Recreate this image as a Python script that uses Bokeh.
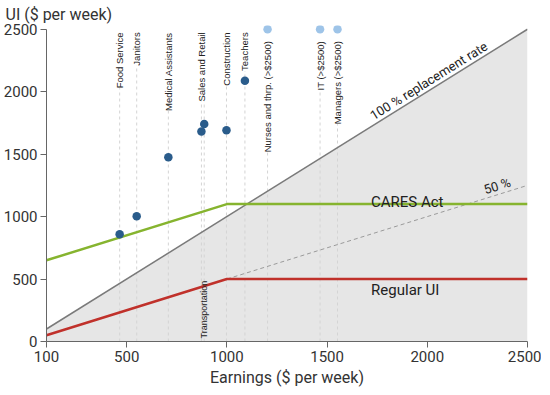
import math
from bokeh.plotting import figure
from bokeh.models import Range1d, FixedTicker
from bokeh.core.properties import value
from bokeh.embed import file_html
from bokeh.resources import INLINE

# ---- data ----
occupations = ["Food Service", "Janitors", "Medical Assistants", "Sales and Retail",
               "Transportation", "Construction", "Teachers",
               "Nurses and thrp. (>$2500)", "IT (>$2500)", "Managers (>$2500)"]
earnings = [465, 550, 708, 873, 887, 998, 1090, 1203, 1465, 1552]
ui_needed = [858, 1002, 1476, 1681, 1742, 1692, 2087, 2500, 2500, 2500]
capped = [False, False, False, False, False, False, False, True, True, True]

policy_earnings = [100, 1000, 2500]
regular_ui = [50, 500, 500]
cares_ui = [650, 1100, 1100]

full_earn = [100, 2500]
full_ui = [100, 2500]
half_earn = [1000, 2500]
half_ui = [500, 1250]

x_ticks = [100, 500, 1000, 1500, 2000, 2500]
y_ticks = [0, 500, 1000, 1500, 2000, 2500]

# ---- layout ----
FW, FH = 481, 316
X0, X1 = 100, 2500
Y0, Y1 = 0, 2530
ppx = FW / (X1 - X0)
ppy = FH / (Y1 - Y0)

p = figure(frame_width=FW, frame_height=FH, output_backend="svg", toolbar_location=None,
           x_range=Range1d(X0, X1), y_range=Range1d(Y0, Y1),
           min_border=0, min_border_right=14, min_border_top=0, min_border_bottom=0)
p.outline_line_color = None
p.xgrid.visible = False
p.ygrid.visible = False
p.background_fill_color = "white"

p.title.text = "UI ($ per week)"
p.title.align = "left"
p.title.text_font = "Roboto"
p.title.text_font_size = "16px"
p.title.text_font_style = "normal"
p.title.text_color = "#333333"
p.title.offset = -41
p.title.standoff = 4

for ax in (p.xaxis[0], p.yaxis[0]):
    ax.axis_line_color = "#666666"
    ax.major_tick_line_color = "#666666"
    ax.minor_tick_line_color = None
    ax.major_tick_out = 6
    ax.major_tick_in = 0
    ax.major_label_text_font = "Roboto"
    ax.major_label_text_font_size = "15px"
    ax.major_label_text_color = "#333333"
    ax.axis_label_text_font = "Roboto"
    ax.axis_label_text_font_size = "16px"
    ax.axis_label_text_font_style = "normal"
    ax.axis_label_text_color = "#333333"

p.xaxis.ticker = FixedTicker(ticks=x_ticks)
p.yaxis.ticker = FixedTicker(ticks=y_ticks)
p.yaxis.bounds = (0, 2500)
p.xaxis.axis_label = "Earnings ($ per week)"
p.xaxis.axis_label_standoff = 3
p.xaxis.major_label_standoff = 3
p.yaxis.major_label_standoff = 3

# shaded area under 100% replacement
p.patch([full_earn[0]] + full_earn + [full_earn[-1]], [0] + full_ui + [0],
        fill_color="#e6e6e6", line_color=None)

# occupation guide lines
label_top = [2405 if c else 2475 for c in capped]
top_idx = [i for i, o in enumerate(occupations) if o != "Transportation"]
bot_idx = [i for i, o in enumerate(occupations) if o == "Transportation"]
p.segment(x0=earnings, y0=[0] * len(earnings), x1=earnings, y1=label_top,
          line_color="#d4d4d4", line_width=1, line_dash="3 3")

# replacement lines
p.line(full_earn, full_ui, line_color="#7a7a7a", line_width=1.5)
p.line(half_earn, half_ui, line_color="#9a9a9a", line_width=1, line_dash="4 3")

# policies
p.line(policy_earnings, regular_ui, line_color="#c0312b", line_width=2.5)
p.line(policy_earnings, cares_ui, line_color="#86b42f", line_width=2.5)

# dots
dark_x = [earnings[i] for i in range(len(earnings)) if not capped[i]]
dark_y = [ui_needed[i] for i in range(len(earnings)) if not capped[i]]
light_x = [earnings[i] for i in range(len(earnings)) if capped[i]]
light_y = [ui_needed[i] for i in range(len(earnings)) if capped[i]]
p.scatter(dark_x, dark_y, size=8.5, fill_color="#2a5c8b", line_color=None)
p.scatter(light_x, light_y, size=8.5, fill_color="#9ec4e8", line_color=None)

# occupation labels
p.text(x=[earnings[i] for i in top_idx], y=[label_top[i] for i in top_idx],
       text=[occupations[i] for i in top_idx], angle=math.pi / 2,
       text_align="right", text_baseline="middle",
       text_font=value("Liberation Sans"), text_font_size="9.5px", text_color="#222222",
       background_fill_color="white")
p.text(x=[earnings[i] for i in bot_idx], y=[25 for i in bot_idx],
       text=[occupations[i] for i in bot_idx], angle=math.pi / 2,
       text_align="left", text_baseline="middle",
       text_font=value("Liberation Sans"), text_font_size="9px", text_color="#222222")

# annotations
th1 = math.atan((ppy * 1.0) / ppx)
th2 = math.atan((ppy * 0.5) / ppx)
g = 1.0
ax1 = 2030
p.text(x=[ax1 - math.sin(th1) * g / ppx], y=[ax1 + math.cos(th1) * g / ppy],
       text=["100 % replacement rate"], angle=th1, text_align="center", text_baseline="bottom",
       text_font=value("Roboto"), text_font_size="13px", text_color="#222222")
ax2 = 2360
p.text(x=[ax2], y=[ax2 * 0.5 + 1 / ppy],
       text=["50 %"], angle=th2, text_align="center", text_baseline="bottom",
       text_font=value("Roboto"), text_font_size="13px", text_color="#222222")
p.text(x=[1900], y=[cares_ui[-1] + 2.6 / ppy], text=["CARES Act"],
       text_align="center", text_baseline="alphabetic",
       text_font=value("Roboto"), text_font_size="15px", text_color="#222222")
p.text(x=[1890], y=[regular_ui[-1] - 1.5 / ppy], text=["Regular UI"],
       text_align="center", text_baseline="top",
       text_font=value("Roboto"), text_font_size="15px", text_color="#222222")

open("out.html", "w").write(file_html(p, INLINE))
